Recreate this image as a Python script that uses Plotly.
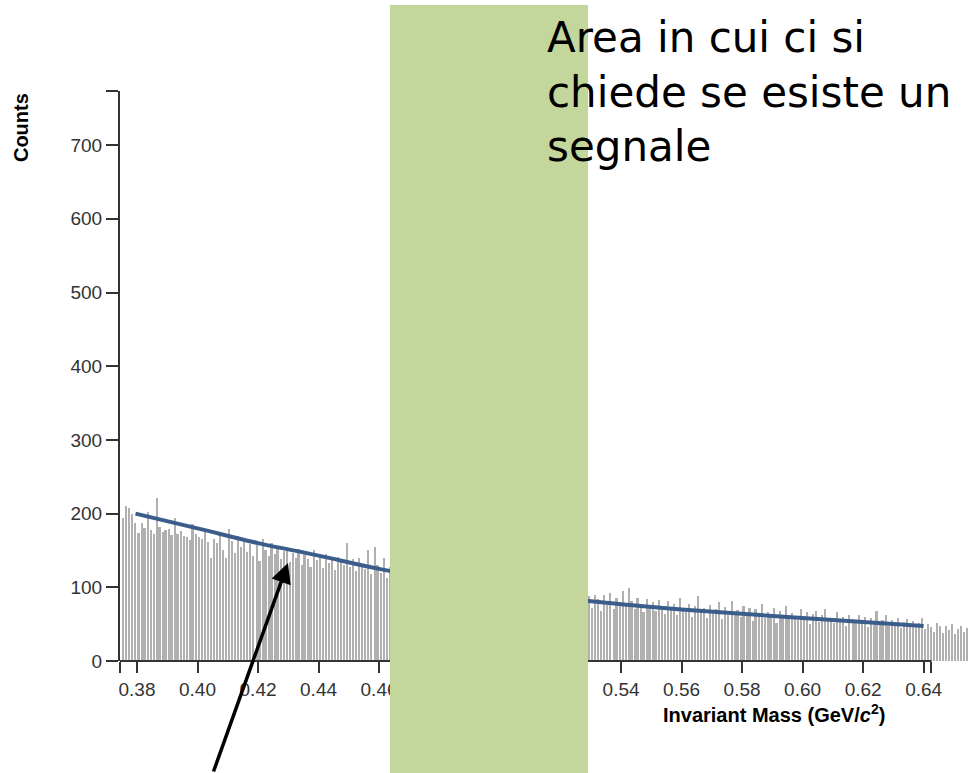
import numpy as np
import plotly.graph_objects as go

# Histogram binning (GeV/c^2)
BIN_WIDTH = 0.001
LEFT_START = 0.375      # first bin edge of the low-mass sideband
RIGHT_START = 0.529     # first bin edge of the high-mass sideband

# Counts per bin, low-mass sideband (0.375 - 0.464)
counts_low = [
    194, 210, 207, 200, 187, 174, 187, 180, 202, 178,
    172, 221, 182, 175, 178, 179, 171, 194, 173, 176,
    170, 168, 164, 186, 172, 168, 165, 178, 162, 140,
    165, 160, 172, 150, 140, 179, 163, 147, 170, 155,
    162, 148, 159, 143, 157, 136, 165, 150, 142, 160,
    145, 153, 138, 149, 155, 134, 147, 140, 152, 130,
    146, 139, 128, 150, 137, 143, 126, 145, 133, 139,
    124, 141, 135, 130, 160, 128, 138, 122, 140, 128,
    125, 150, 118, 155, 130, 120, 140, 112, 128,
]

# Counts per bin, high-mass sideband (0.529 - 0.656)
counts_high = [
    88, 72, 90, 84, 68, 89, 76, 92, 70, 86,
    80, 95, 74, 99, 82, 70, 85, 78, 66, 84,
    72, 80, 68, 83, 75, 64, 82, 70, 77, 62,
    86, 71, 66, 78, 60, 74, 88, 68, 72, 58,
    76, 65, 70, 80, 57, 73, 62, 82, 66, 69,
    60, 75, 64, 72, 54, 70, 62, 77, 58, 67,
    63, 72, 52, 68, 60, 74, 57, 65, 61, 55,
    70, 58, 66, 50, 64, 68, 53, 62, 71, 56,
    59, 52, 66, 55, 60, 48, 63, 57, 51, 62,
    54, 60, 46, 58, 52, 68, 50, 56, 62, 48,
    55, 51, 58, 45, 53, 57, 49, 54, 47, 52,
    58, 44, 50, 46, 40, 52, 48, 38, 47, 42,
    50, 36, 44, 48, 40, 45, 42,
]

# Background fit curve
fit_mass = [0.3795, 0.40, 0.42, 0.44, 0.46, 0.48, 0.50, 0.52, 0.53, 0.54,
            0.56, 0.58, 0.60, 0.62, 0.64]
fit_counts = [200, 180, 160, 143, 125, 110, 97, 86, 81, 77,
              70, 64, 58.5, 53, 47.5]

# Axis ticks
x_ticks = [0.38, 0.40, 0.42, 0.44, 0.46, 0.48, 0.50, 0.52, 0.54, 0.56,
           0.58, 0.60, 0.62, 0.64]
y_ticks = [0, 100, 200, 300, 400, 500, 600, 700]

# Search window for a signal
window = (0.46362, 0.52906)

X_RANGE = (0.37438, 0.655)
X_AXIS_END = 0.6426
Y_TOP = 773.4

centers_low = LEFT_START + BIN_WIDTH * (np.arange(len(counts_low)) + 0.5)
centers_high = RIGHT_START + BIN_WIDTH * (np.arange(len(counts_high)) + 0.5)
centers = np.concatenate([centers_low, centers_high])
counts = counts_low + counts_high

AXIS_COLOR = "#333333"
FONT = "Liberation Sans, Arial, sans-serif"

fig = go.Figure()

fig.add_trace(go.Bar(
    x=centers, y=counts,
    width=BIN_WIDTH * 0.66,
    marker=dict(color="#b0b0b0", line=dict(width=0)),
    hoverinfo="x+y",
))

fig.add_trace(go.Scatter(
    x=fit_mass, y=fit_counts,
    mode="lines",
    line=dict(color="#3b5d8b", width=4, shape="spline", smoothing=1.0),
    hoverinfo="skip",
))

fig.update_layout(
    width=969, height=773,
    margin=dict(l=120, r=0, t=91, b=112),
    paper_bgcolor="white", plot_bgcolor="white",
    showlegend=False,
    bargap=0,
    font=dict(family=FONT, size=19, color=AXIS_COLOR),
)

fig.update_xaxes(
    range=list(X_RANGE),
    tickvals=[X_RANGE[0] + 0.00002] + x_ticks + [X_AXIS_END],
    ticktext=[""] + [f"{v:.2f}" for v in x_ticks] + [""],
    ticks="outside", ticklen=11, tickwidth=2, tickcolor=AXIS_COLOR,
    showline=False, showgrid=False, zeroline=False,
    tickfont=dict(family=FONT, size=19, color="#333333"),
)

fig.update_yaxes(
    range=[0, Y_TOP],
    tickvals=y_ticks + [Y_TOP - 0.1],
    ticktext=[str(v) for v in y_ticks] + [""],
    ticks="outside", ticklen=12, tickwidth=2, tickcolor=AXIS_COLOR,
    showline=True, linewidth=2, linecolor=AXIS_COLOR,
    showgrid=False, zeroline=False,
    tickfont=dict(family=FONT, size=19, color="#333333"),
)

# x-axis baseline (ends at the last outer tick)
fig.add_shape(type="line", xref="x", yref="paper",
              x0=X_RANGE[0], x1=X_AXIS_END, y0=0, y1=0,
              line=dict(color=AXIS_COLOR, width=2), layer="above")

# Highlighted search window
fig.add_shape(type="rect", xref="x", yref="paper",
              x0=window[0], x1=window[1], y0=-0.1965, y1=1.151,
              fillcolor="#c3d69b", line=dict(width=0), layer="above")

# Axis titles
fig.add_annotation(
    text="<b>Counts</b>", xref="paper", yref="paper",
    x=-0.1166, y=0.935, xanchor="center", yanchor="middle",
    textangle=-90, showarrow=False,
    font=dict(family=FONT, size=20, color="black"),
)
fig.add_annotation(
    text="<b>Invariant Mass (GeV/<i>c</i><sup>2</sup>)</b>",
    xref="paper", yref="paper", x=0.770, y=-0.092,
    xanchor="center", yanchor="middle", showarrow=False,
    font=dict(family=FONT, size=20, color="black"),
)

# Note about the signal window
fig.add_annotation(
    text="Area in cui ci si<br>chiede se esiste un<br>segnale",
    xref="paper", yref="paper", x=0.50, y=1.14,
    xanchor="left", yanchor="top", align="left", showarrow=False,
    font=dict(family="DejaVu Sans", size=42, color="black"),
)

# Arrow pointing at the background fit
fig.add_annotation(
    x=0.4299, y=133, xref="x", yref="y",
    ax=-75, ay=210, axref="pixel", ayref="pixel",
    text="", showarrow=True,
    arrowhead=2, arrowsize=1.15, arrowwidth=3.5, arrowcolor="black",
)

fig.write_html("out.html")
